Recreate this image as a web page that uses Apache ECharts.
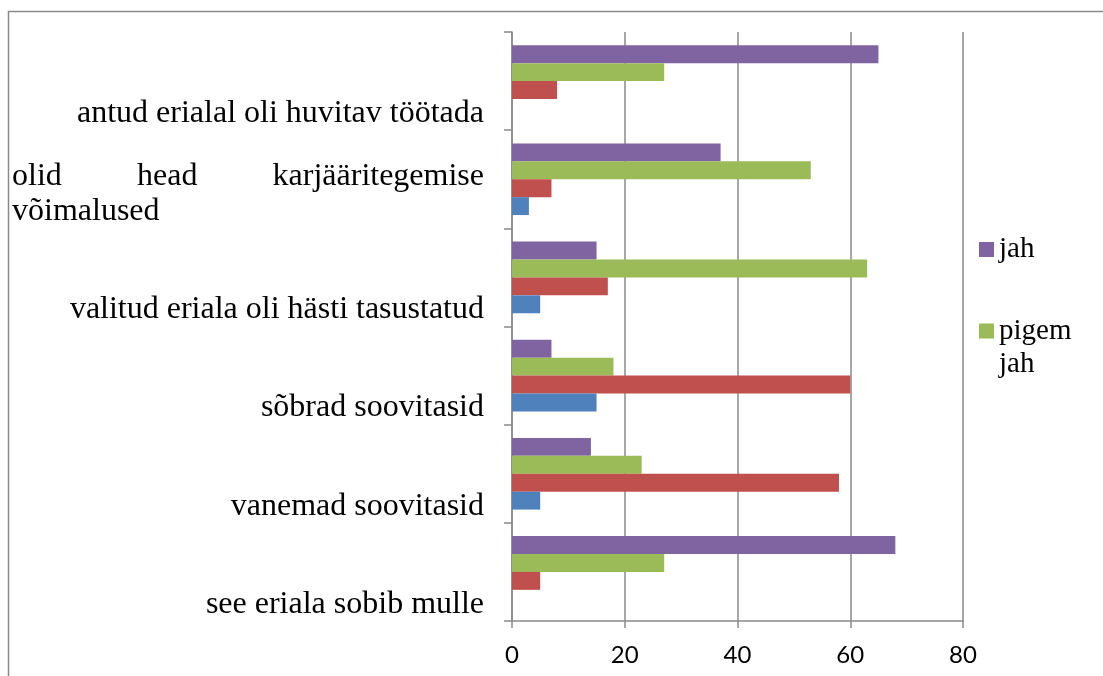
<!DOCTYPE html>
<html>
<head>
<meta charset="utf-8">
<script src="https://cdn.jsdelivr.net/npm/echarts@6/dist/echarts.min.js"></script>
<style>
  html, body { margin: 0; padding: 0; background: #fff; }
  #chart { width: 1103px; height: 676px; }
</style>
</head>
<body>
<div id="chart"></div>
<script>
// categories bottom -> top
const categories = [
  'see eriala sobib mulle',
  'vanemad soovitasid',
  'sõbrad soovitasid',
  'valitud eriala oli hästi tasustatud',
  'olid head karjääritegemise võimalused',
  'antud erialal oli huvitav töötada'
]
const jah = [68, 14, 7, 15, 37, 65]
const pigemJah = [27, 23, 18, 63, 53, 27]
const pigemEi = [5, 58, 60, 17, 7, 8]
const ei = [0, 5, 15, 5, 3, 0]
const xTicks = [0, 20, 40, 60, 80]

const serif = 'Liberation Serif'
const gray = '#8a8a8a'

const chart = echarts.init(document.getElementById('chart'))

const option = {
  animation: false,
  grid: { left: 512, top: 32, right: 140, bottom: 55, containLabel: false },
  graphic: [{
    type: 'rect',
    shape: { x: 8.5, y: 11.5, width: 1200, height: 800 },
    style: { fill: 'none', stroke: gray, lineWidth: 1.5 },
    silent: true
  }],
  legend: [
    {
      data: ['jah'],
      left: 979,
      top: 233,
      orient: 'vertical',
      padding: 0,
      icon: 'rect',
      itemWidth: 15,
      itemHeight: 15,
      textStyle: { fontFamily: serif, fontSize: 29, lineHeight: 33, color: '#000' }
    },
    {
      data: ['pigem jah'],
      left: 979,
      top: 281.5,
      orient: 'vertical',
      padding: 0,
      icon: 'rect',
      itemWidth: 15,
      itemHeight: 15,
      formatter: function() {
        return '\npigem\njah'
      },
      textStyle: { fontFamily: serif, fontSize: 29, lineHeight: 33, color: '#000' }
    }
  ],
  xAxis: {
    type: 'value',
    min: xTicks[0],
    max: xTicks[xTicks.length - 1],
    interval: xTicks[1] - xTicks[0],
    axisLine: { show: true, lineStyle: { color: gray, width: 1.5 } },
    axisTick: { show: true, length: 7, lineStyle: { color: gray, width: 1.5 } },
    splitLine: { show: true, lineStyle: { color: gray, width: 1.5 } },
    axisLabel: { fontFamily: 'Lato', fontSize: 24, color: '#000', margin: 22 }
  },
  yAxis: {
    type: 'category',
    data: categories,
    axisLine: { show: true, lineStyle: { color: gray, width: 1.5 } },
    axisTick: { show: true, length: 8, lineStyle: { color: gray, width: 1.5 } },
    splitLine: { show: false },
    axisLabel: {
      interval: 0,
      margin: 28,
      fontFamily: serif,
      fontSize: 32,
      lineHeight: 35,
      color: '#000',
      verticalAlign: 'bottom',
      padding: [0, 0, -50, 0],
      formatter: function(value) {
        if (value === 'olid head karjääritegemise võimalused') {
          return '{l|olid}{c|head}{r|karjääritegemise}\n{w|võimalused}'
        }
        return value
      },
      rich: {
        l: { fontFamily: serif, fontSize: 32, lineHeight: 35, color: '#000', align: 'left' },
        c: { fontFamily: serif, fontSize: 32, lineHeight: 35, color: '#000', align: 'center' },
        r: { fontFamily: serif, fontSize: 32, lineHeight: 35, color: '#000', align: 'right' },
        w: { fontFamily: serif, fontSize: 32, lineHeight: 35, color: '#000', align: 'left', width: 472 }
      }
    }
  },
  series: [
    { name: 'jah', type: 'bar', data: jah, itemStyle: { color: '#8064A2' }, barGap: 0, barCategoryGap: '27%' },
    { name: 'pigem jah', type: 'bar', data: pigemJah, itemStyle: { color: '#9BBB59' } },
    { name: 'pigem ei', type: 'bar', data: pigemEi, itemStyle: { color: '#C0504D' } },
    { name: 'ei', type: 'bar', data: ei, itemStyle: { color: '#4F81BD' } }
  ]
}

chart.setOption(option)
</script>
</body>
</html>
